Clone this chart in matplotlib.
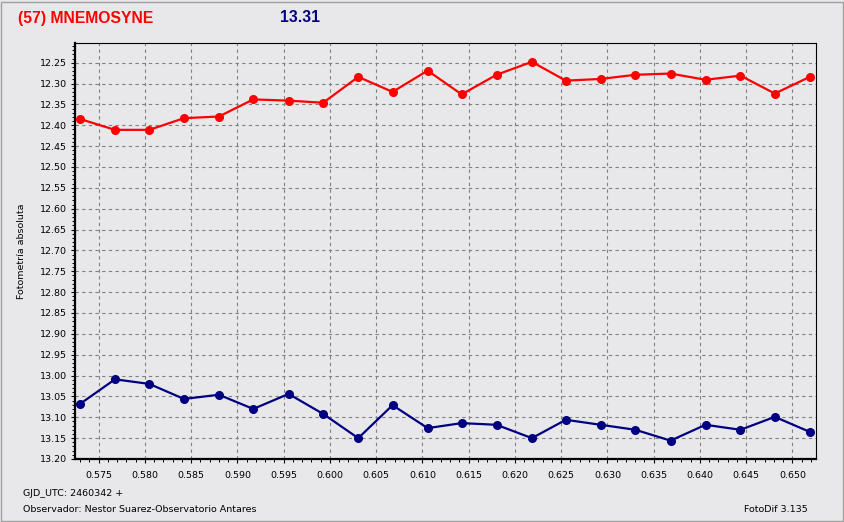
import matplotlib
matplotlib.use("Agg")
import matplotlib.pyplot as plt
from matplotlib.patches import Rectangle
from matplotlib.ticker import MultipleLocator, FormatStrFormatter

# ---- data ----
gjd_offset = [0.57298, 0.57676, 0.58047, 0.58422, 0.58800, 0.59171, 0.59553, 0.59927,
              0.60306, 0.60677, 0.61056, 0.61424, 0.61801, 0.62183, 0.62550, 0.62925,
              0.63303, 0.63682, 0.64060, 0.64438, 0.64809, 0.65187]
red_mag = [12.385, 12.411, 12.411, 12.383, 12.379, 12.338, 12.341, 12.346,
           12.284, 12.320, 12.269, 12.326, 12.279, 12.248, 12.293, 12.289,
           12.279, 12.276, 12.291, 12.281, 12.324, 12.284]
blue_mag = [13.068, 13.009, 13.020, 13.056, 13.046, 13.080, 13.044, 13.092,
            13.150, 13.071, 13.126, 13.114, 13.118, 13.150, 13.106, 13.118,
            13.130, 13.156, 13.118, 13.130, 13.099, 13.135]
title_text = "(57) MNEMOSYNE"
mag_text = "13.31"
ylabel_text = "Fotometría absoluta"
footer1 = "GJD_UTC: 2460342 +"
footer2 = "Observador: Nestor Suarez-Observatorio Antares"
footer3 = "FotoDif 3.135"

W, H = 844, 522
BG = "#E8E8EA"
fig = plt.figure(figsize=(W / 100, H / 100), dpi=100, facecolor=BG)

# outer frame
fig.patches.append(Rectangle((1 / W, 1 / H), 1 - 2.5 / W, 1 - 2.5 / H, transform=fig.transFigure,
                             fill=False, edgecolor="#A0A0A0", linewidth=1.0))

left, right, top, bottom = 75, 815.5, 43, 459
ax = fig.add_axes([left / W, 1 - bottom / H, (right - left) / W, (bottom - top) / H])
ax.set_facecolor(BG)

ax.plot(gjd_offset, red_mag, color="#FF0000", lw=1.6, marker="o", ms=5.5, zorder=3)
ax.plot(gjd_offset, blue_mag, color="#000080", lw=1.6, marker="o", ms=5.5, zorder=3)

ax.set_xlim(0.57244, 0.65249)
ax.set_ylim(13.20, 12.2028)

ax.xaxis.set_major_locator(MultipleLocator(0.005))
ax.xaxis.set_major_formatter(FormatStrFormatter("%.3f"))
ax.xaxis.set_minor_locator(MultipleLocator(0.001))
ax.yaxis.set_major_locator(MultipleLocator(0.05))
ax.yaxis.set_major_formatter(FormatStrFormatter("%.2f"))
ax.yaxis.set_minor_locator(MultipleLocator(0.01))

ax.tick_params(axis="both", which="major", labelsize=6.8, length=3, width=0.8, color="black")
ax.tick_params(axis="x", which="major", pad=6)
ax.tick_params(axis="y", which="major", pad=3)
ax.tick_params(axis="both", which="minor", direction="out", length=2, width=0.7)
for lab in ax.get_xticklabels() + ax.get_yticklabels():
    lab.set_family("DejaVu Sans")

ax.grid(True, which="major", color="#808080", linestyle=(0, (3, 3)), linewidth=0.8)

ax.spines["left"].set_linewidth(1.6)
ax.spines["bottom"].set_linewidth(1.6)
ax.spines["top"].set_linewidth(0.8)
ax.spines["right"].set_linewidth(0.8)

fig.text(18 / W, 1 - 18 / H, title_text, color="#FF0000", fontsize=11.3, fontweight="bold",
         family="Liberation Sans", ha="left", va="center")
fig.text(280 / W, 1 - 18 / H, mag_text, color="#000080", fontsize=11.3, fontweight="bold",
         family="Liberation Sans", ha="left", va="center")
fig.text(22 / W, 1 - 251 / H, ylabel_text, rotation=90, fontsize=6.8, family="DejaVu Sans",
         ha="center", va="center")
fig.text(23 / W, 1 - 494 / H, footer1, fontsize=6.8, family="DejaVu Sans", ha="left", va="center")
fig.text(23 / W, 1 - 509.5 / H, footer2, fontsize=6.8, family="DejaVu Sans", ha="left", va="center")
fig.text(808 / W, 1 - 510 / H, footer3, fontsize=6.8, family="DejaVu Sans", ha="right", va="center")

fig.savefig("out.png", dpi=100, facecolor=BG)
